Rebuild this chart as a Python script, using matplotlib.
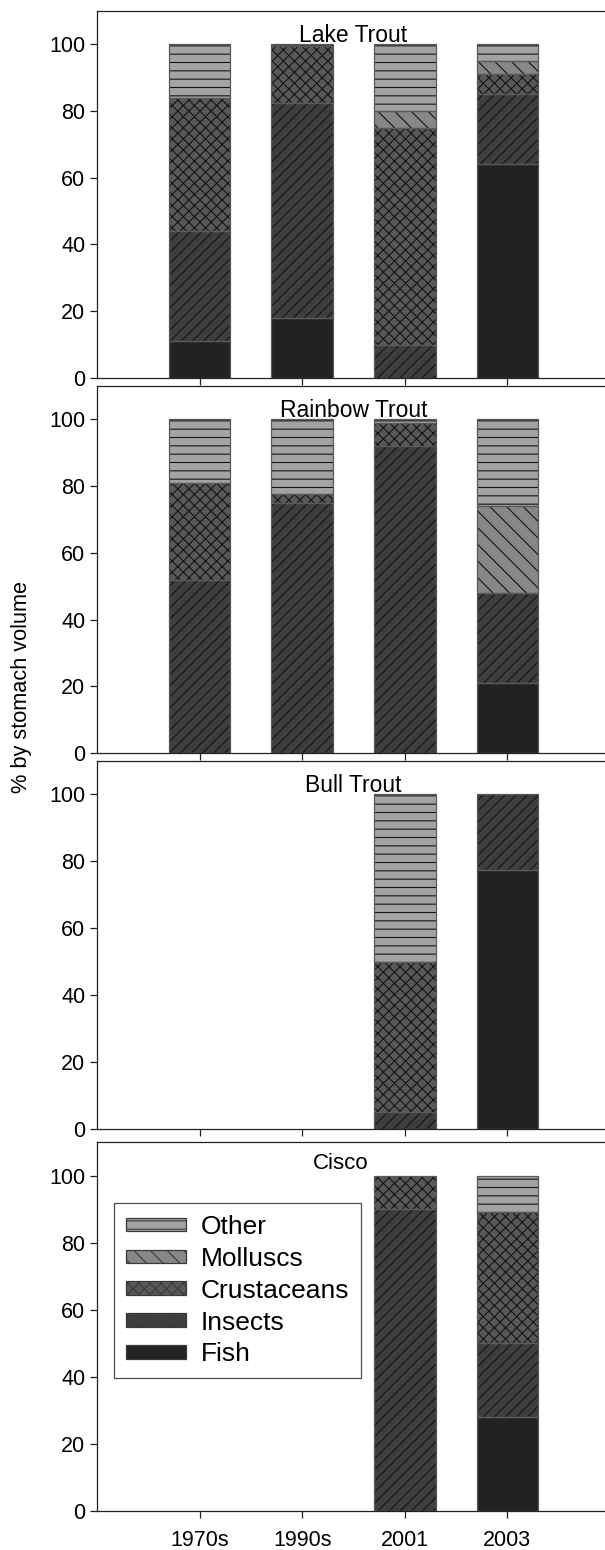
import numpy as np
import matplotlib
matplotlib.use("Agg")
import matplotlib.pyplot as plt
from matplotlib.patches import Patch

plt.rcParams['font.family'] = ['Liberation Sans', 'DejaVu Sans']
plt.rcParams['hatch.linewidth'] = 0.8

# x categories and prey groups
periods = ['1970s', '1990s', '2001', '2003']
prey = ['Fish', 'Insects', 'Crustaceans', 'Molluscs', 'Other']

# % by stomach volume, one list per prey type (order follows periods)
lake_fish = [11, 18, 0, 64]
lake_insects = [33, 64.5, 10, 21]
lake_crust = [40, 17, 65, 6]
lake_moll = [0, 0, 5, 4]
lake_other = [16, 0.5, 20, 5]

rainbow_fish = [0, 0, 0, 21]
rainbow_insects = [52, 75, 92, 27]
rainbow_crust = [29, 2.5, 7, 0]
rainbow_moll = [0, 0, 0, 26]
rainbow_other = [19, 22.5, 1, 26]

bull_fish = [0, 0, 0, 77.5]
bull_insects = [0, 0, 5, 22.5]
bull_crust = [0, 0, 45, 0]
bull_moll = [0, 0, 0, 0]
bull_other = [0, 0, 50, 0]

cisco_fish = [0, 0, 0, 28]
cisco_insects = [0, 0, 90, 22]
cisco_crust = [0, 0, 10, 39]
cisco_moll = [0, 0, 0, 0]
cisco_other = [0, 0, 0, 11]

species = ['Lake Trout', 'Rainbow Trout', 'Bull Trout', 'Cisco']
panels = [
    [lake_fish, lake_insects, lake_crust, lake_moll, lake_other],
    [rainbow_fish, rainbow_insects, rainbow_crust, rainbow_moll, rainbow_other],
    [bull_fish, bull_insects, bull_crust, bull_moll, bull_other],
    [cisco_fish, cisco_insects, cisco_crust, cisco_moll, cisco_other],
]

# look of each prey type
fills = ['#222222', '#3e3e3e', '#585858', '#878787', '#a3a3a3']
hatches = [None, '///', 'xxx', '\\\\', '--']

W, H = 605, 1550
fig = plt.figure(figsize=(W / 100, H / 100), dpi=100)

# panel boxes in pixels (top, bottom)
boxes = [(10.7, 378), (386, 753), (761, 1129), (1142, 1511)]
left_px, right_px = 97, 610

x = np.arange(len(periods))
width = 0.6
axes = []
for p, (top, bot) in enumerate(boxes):
    ax = fig.add_axes([left_px / W, 1 - bot / H, (right_px - left_px) / W, (bot - top) / H])
    axes.append(ax)
    bottom = np.zeros(len(periods))
    for k, vals in enumerate(panels[p]):
        vals = np.array(vals, dtype=float)
        keep = vals > 0
        # hatch pass (dark lines), then outline pass
        ax.bar(x[keep], vals[keep], width, bottom=bottom[keep], color=fills[k],
               hatch=hatches[k], edgecolor='#151515', linewidth=0, zorder=2)
        ax.bar(x[keep], vals[keep], width, bottom=bottom[keep], facecolor='none',
               edgecolor='#5a5a5a', linewidth=0.9, zorder=3)
        bottom += vals

    ax.set_xlim(-1, 4)
    ax.set_ylim(0, 110)
    ax.set_yticks([0, 20, 40, 60, 80, 100])
    ax.set_xticks(x)
    ax.tick_params(axis='both', direction='out', length=5, width=0.9, labelsize=15.5,
                   color='#222222', top=False, right=False)
    for s in ['left', 'bottom', 'top']:
        ax.spines[s].set_linewidth(0.9)
        ax.spines[s].set_color('#222222')
    ax.spines['right'].set_visible(False)
    if p < 3:
        ax.set_xticklabels([])
    else:
        ax.set_xticklabels(periods)
        ax.tick_params(axis='x', pad=9)

    if p < 3:
        ax.text(0.5, 100.7, species[p], transform=ax.get_yaxis_transform(),
                ha='center', va='baseline', fontsize=16.5)
    else:
        ax.text(0.475, 102, species[p], transform=ax.get_yaxis_transform(),
                ha='center', va='baseline', fontsize=16)

# legend in the last panel, Other on top
handles = []
for k in reversed(range(len(prey))):
    handles.append(Patch(facecolor=fills[k], hatch=hatches[k], edgecolor='#3a3a3a',
                         linewidth=0.9, label=prey[k]))
leg = axes[3].legend(handles=handles, loc='upper left', bbox_to_anchor=(0.033, 0.835),
                     borderaxespad=0, fontsize=19, frameon=True, fancybox=False,
                     handlelength=2.3, handleheight=0.4, handletextpad=0.55,
                     labelspacing=0.3, borderpad=0.45)
leg.get_frame().set_edgecolor('#222222')
leg.get_frame().set_linewidth(0.9)

fig.text(0.036, 0.557, '% by stomach volume', rotation=90, ha='center', va='center',
         fontsize=15.7)

fig.savefig('out.png', dpi=100)
